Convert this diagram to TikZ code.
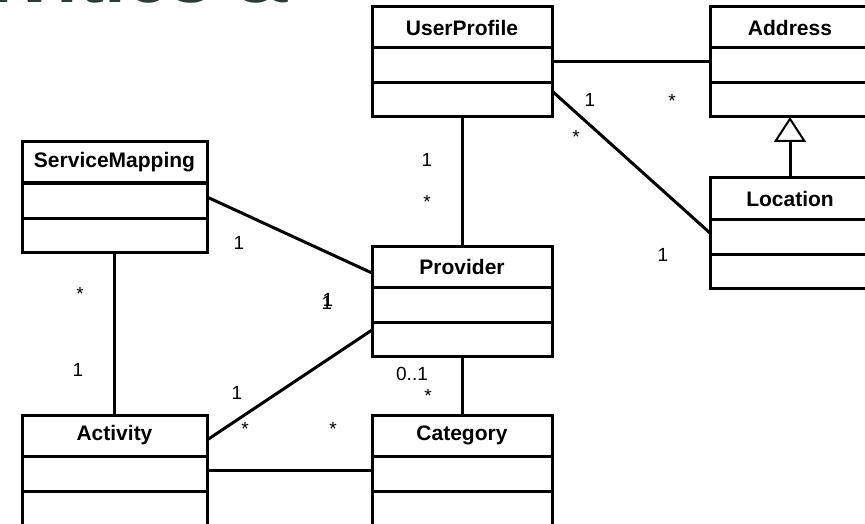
\documentclass[tikz,border=0pt]{standalone}
\usepackage{fontspec}
\setmainfont{Liberation Sans}
\usetikzlibrary{calc,arrows.meta}
\definecolor{headslate}{HTML}{2E3B35}
\tikzset{
	classbox/.style={draw, line width=3pt, minimum height=110pt, inner sep=0pt, outer sep=0pt},
	classname/.style={font=\bfseries\fontsize{21}{25}\selectfont, inner sep=0pt},
	mult/.style={font=\fontsize{19}{23}\selectfont, inner sep=0pt},
	assoc/.style={line width=3pt},
}
\def\umlclass[#1](#2,#3)(#4)#5{%
	\node[classbox, minimum width=#4] (#1) at (#2,#3) {};
	\node[classname] (#1-name) at ($(#1.north)+(0,20.5)$) {#5};
	\draw[line width=3pt] ($(#1.north west)+(0,41)$) -- ($(#1.north east)+(0,41)$);
	\draw[line width=3pt] ($(#1.north west)+(0,76)$) -- ($(#1.north east)+(0,76)$);
}

\begin{document}
\begin{tikzpicture}[x=1pt, y=-1pt]
			%%%%% START %%%%%
			\useasboundingbox (0,0) rectangle (865,524);
			\clip (0,0) rectangle (865,524);
			
			\node[font=\bfseries\fontsize{78}{86}\selectfont, text=headslate, anchor=base east, inner sep=0pt] (heading) at (291,3) {Activities \&};
			
			\umlclass[up](462,62)(180){UserProfile}
			\umlclass[addr](790,62)(160){Address}
			\umlclass[loc](790,233)(160){Location}
			\umlclass[sm](114.5,197)(185){ServiceMapping}
			\umlclass[prov](462,301)(180){Provider}
			\umlclass[act](114.5,470)(185){Activity}
			\umlclass[cat](462,470)(180){Category}
			
			\draw[assoc] (up.east) -- (addr.west);
			\draw[assoc] ($(up.east)+(0,29)$) -- (loc.west);
			\draw[assoc] (up.south) -- (prov.north);
			\draw[assoc] (sm.east) -- ($(prov.west)+(0,-28)$);
			\draw[assoc] (sm.south) -- (act.north);
			\draw[assoc] ($(act.east)+(0,-30)$) -- ($(prov.west)+(0,29)$);
			\draw[assoc] (act.east) -- (cat.west);
			\draw[assoc] (prov.south) -- (cat.north);
			
			\draw[assoc, -{Triangle[open, length=25pt, width=32pt, line width=2pt]}] (loc.north) -- (addr.south);
			
			\node[mult] (m1) at (590,100) {1};
			\node[mult] (m2) at (576,137) {*};
			\node[mult] (m3) at (672,101) {*};
			\node[mult] (m4) at (663,255) {1};
			\node[mult] (m5) at (427,160) {1};
			\node[mult] (m6) at (427,202) {*};
			\node[mult] (m7) at (239,243) {1};
			\node[mult] (m8) at (327,303) {1};
			\node[mult] (m9) at (328,300) {1};
			\node[mult] (m10) at (80,294) {*};
			\node[mult] (m11) at (78,370) {1};
			\node[mult] (m12) at (237,393) {1};
			\node[mult] (m13) at (245,429) {*};
			\node[mult] (m14) at (333,429) {*};
			\node[mult] (m15) at (412,374) {0..1};
			\node[mult] (m16) at (428,396) {*};
			
			%%%%% END %%%%%
\end{tikzpicture}
\end{document}
